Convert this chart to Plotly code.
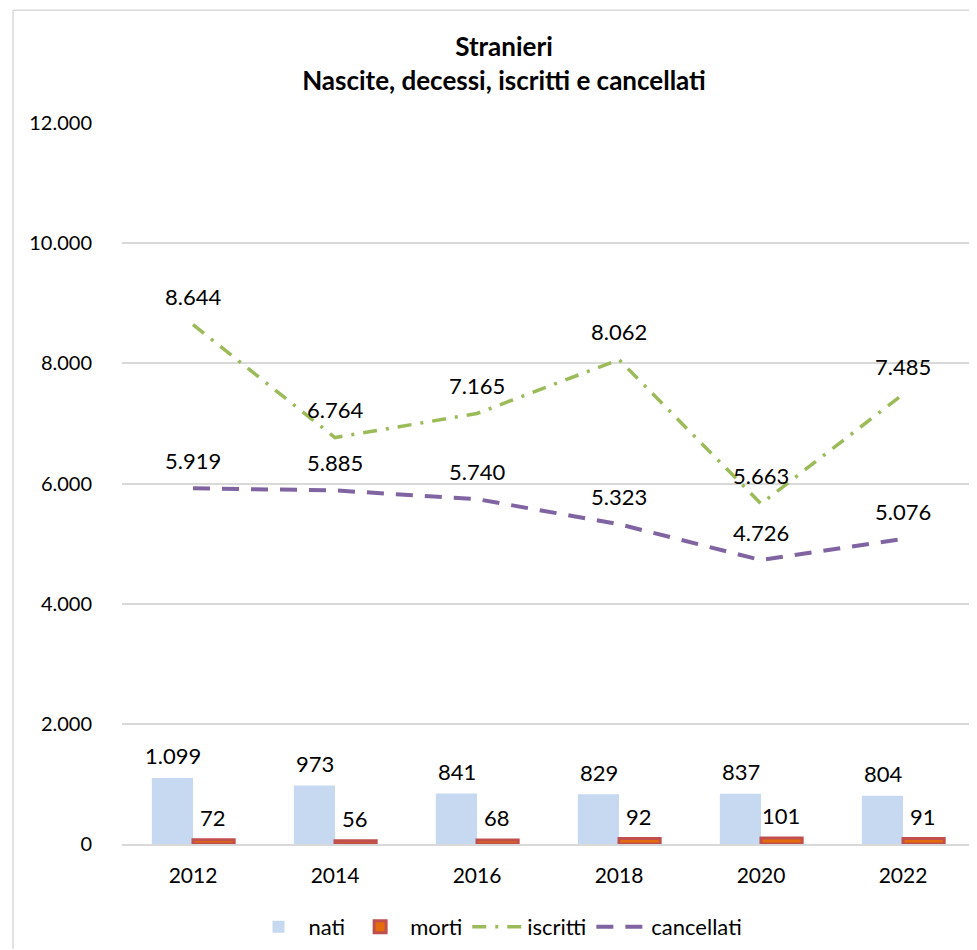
import plotly.graph_objects as go

anni = ["2012", "2014", "2016", "2018", "2020", "2022"]
nati = [1099, 973, 841, 829, 837, 804]
morti = [72, 56, 68, 92, 101, 91]
iscritti = [8644, 6764, 7165, 8062, 5663, 7485]
cancellati = [5919, 5885, 5740, 5323, 4726, 5076]

FONT = "Lato, 'Liberation Sans', Arial, sans-serif"

# la pagina html ha un margine di 8px: tutte le misure sono spostate
W, H = 969, 942
L, R, T, B = 114, 3, 115, 105


def fmt(v):
    # separatore delle migliaia all'italiana
    return f"{v:,}".replace(",", ".")


fig = go.Figure()

fig.add_trace(go.Bar(
    x=anni, y=nati, name="nati",
    marker=dict(color="#c6d9f1", line=dict(width=0)),
))
fig.add_trace(go.Bar(
    x=anni, y=morti, name="morti",
    marker=dict(color="#e46c0a", line=dict(color="#c0504d", width=3)),
))
fig.add_trace(go.Scatter(
    x=anni, y=iscritti, name="iscritti", mode="lines",
    line=dict(color="#9bbb59", width=3.5, dash="14px,9px,3px,9px"),
))
fig.add_trace(go.Scatter(
    x=anni, y=cancellati, name="cancellati", mode="lines",
    line=dict(color="#8064a2", width=4, dash="17px,12px"),
))

# etichette dei dati (x = indice della categoria)
annots = []
for serie, shift_x, shift_y in [(nati, -20, 22), (morti, 20, 22), (iscritti, 0, 28), (cancellati, 0, 28)]:
    for i, v in enumerate(serie):
        annots.append(dict(
            x=i, y=v, text=fmt(v), showarrow=False,
            xshift=shift_x, yshift=shift_y, yanchor="middle",
            font=dict(family=FONT, size=22, color="#000000"),
        ))


# bordo del grafico (coordinate paper)
def px_x(p):
    return (p - L) / (W - L - R)


def px_y(p):
    return (H - B - p) / (H - T - B)


shapes = [
    dict(type="line", xref="paper", yref="paper",
         x0=px_x(5), x1=px_x(W), y0=px_y(2), y1=px_y(2),
         line=dict(color="#d9d9d9", width=1.5)),
    dict(type="line", xref="paper", yref="paper",
         x0=px_x(5), x1=px_x(5), y0=px_y(2), y1=px_y(H),
         line=dict(color="#d9d9d9", width=1.5)),
]

fig.update_layout(
    width=W, height=H,
    margin=dict(l=L, r=R, t=T, b=B),
    paper_bgcolor="white", plot_bgcolor="white",
    separators=",.",
    barmode="group", bargap=0.42, bargroupgap=0,
    font=dict(family=FONT, size=20, color="#000000"),
    title=dict(
        text="<b>Stranieri</b><br><b>Nascite, decessi, iscritti e cancellati</b>",
        x=496 / W, xanchor="center", y=1 - 48 / H, yanchor="middle",
        font=dict(family=FONT, size=26, color="#000000"),
    ),
    legend=dict(
        orientation="h", x=px_x(490), xanchor="center",
        y=px_y(919), yanchor="middle",
        font=dict(family=FONT, size=22), traceorder="normal",
        itemwidth=50,
    ),
    annotations=annots,
    shapes=shapes,
)

fig.update_xaxes(
    type="category", range=[-0.5, 5.5], showgrid=False, showline=True,
    linecolor="#d9d9d9", linewidth=1.5, ticks="",
    ticklabelstandoff=12,
    tickfont=dict(family=FONT, size=21),
)
fig.update_yaxes(
    range=[0, 12000], dtick=2000, tickformat=",d",
    showgrid=True, gridcolor="#d9d9d9", gridwidth=1.5,
    zeroline=False, showline=False, ticks="",
    ticklabelstandoff=29,
    tickfont=dict(family=FONT, size=20),
)

fig.write_html("out.html")
